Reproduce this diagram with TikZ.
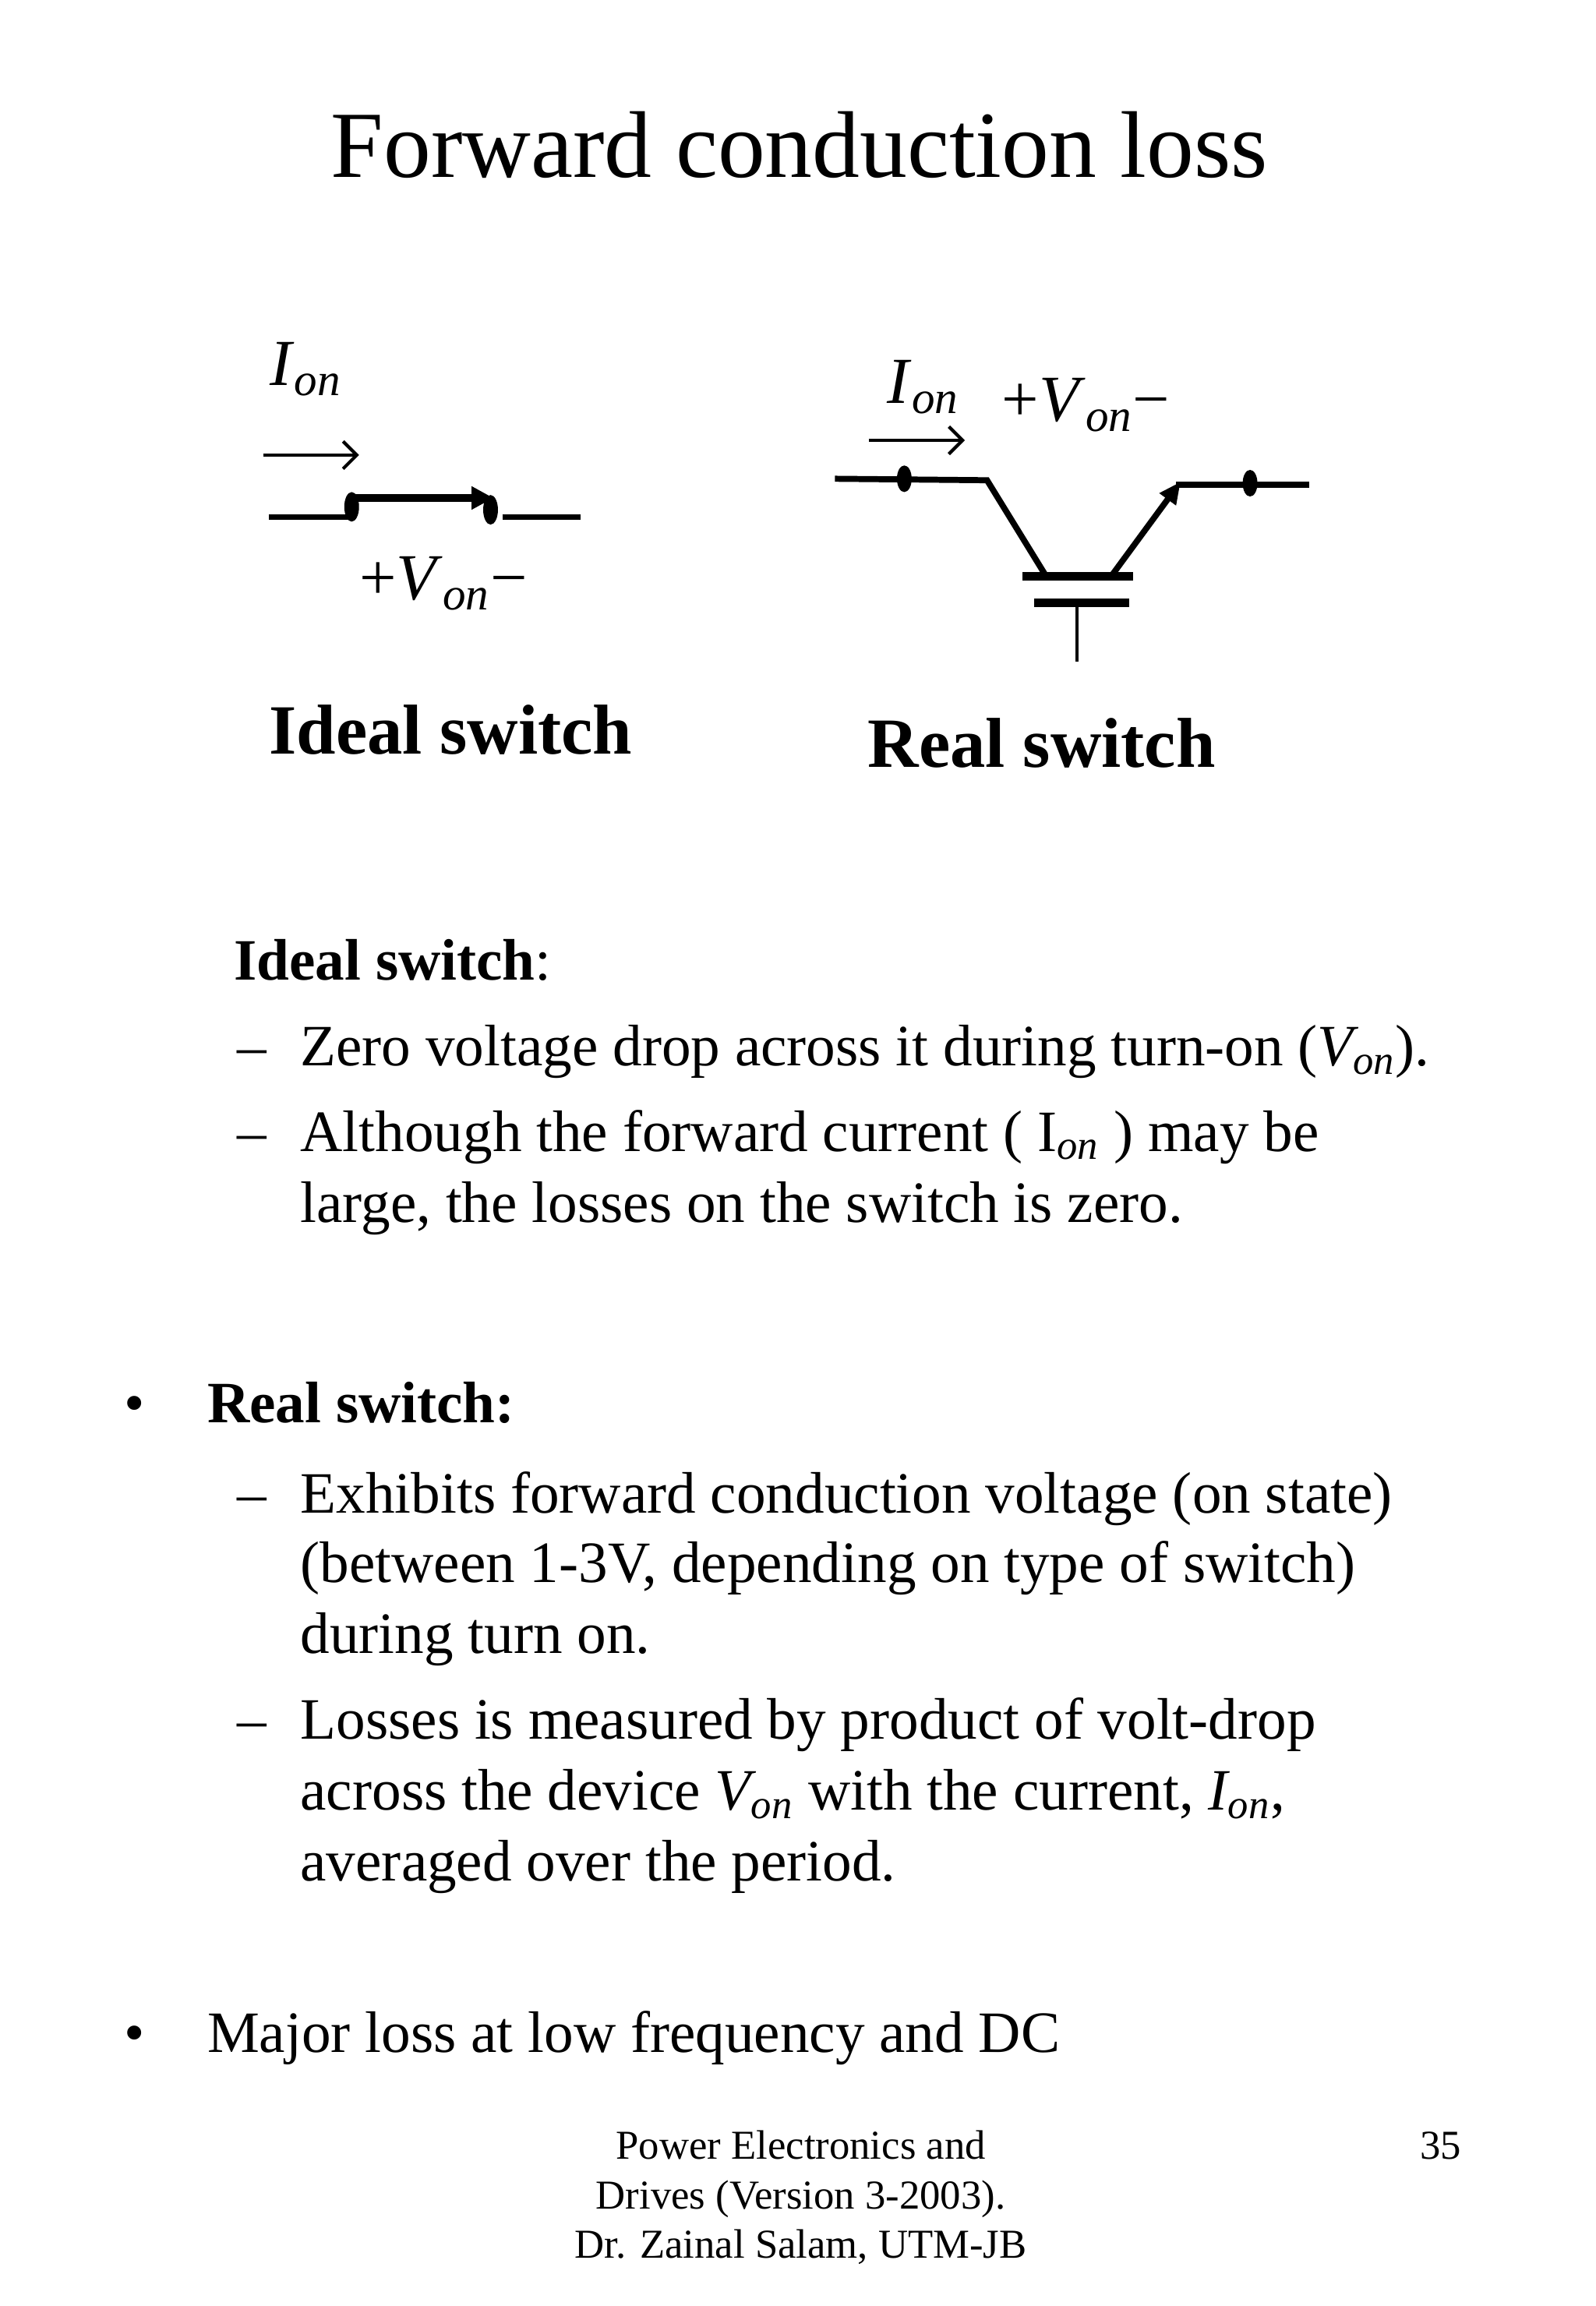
\documentclass[tikz,border=0pt]{standalone}
\usepackage{fontspec}
\setmainfont{Liberation Serif}
\usetikzlibrary{arrows.meta}
\begin{document}
\begin{tikzpicture}[x=0.01896cm,y=-0.01896cm,
  body/.style={anchor=base west,inner sep=0,font=\fontsize{21.4}{26}\selectfont},
  foot/.style={anchor=base,inner sep=0,font=\fontsize{15}{17}\selectfont},
  head/.style={anchor=base,inner sep=0,font=\fontsize{25.8}{30}\selectfont\bfseries},
  lab/.style={inner sep=0,font=\fontsize{24}{28}\selectfont},
  wire/.style={line width=2.2pt},
  thinw/.style={line width=1.2pt},
]
\useasboundingbox (0,0) rectangle (1080,1560.6);
\node[anchor=base,inner sep=0,font=\fontsize{34.6}{40}\selectfont] (title) at (541,120) {Forward conduction loss};
% ideal switch
\node[lab] (i1) at (207,250) {\textit{I}\textsubscript{\textit{on}}};
\coordinate (a1s) at (178,308); \coordinate (a1e) at (243,308);
\draw[thinw,-{Straight Barb[length=5pt]}] (a1s) -- (a1e);
\coordinate (w1a) at (182,350); \coordinate (w1b) at (238,350);
\coordinate (w2a) at (340,350); \coordinate (w2b) at (393,350);
\draw[wire] (w1a) -- (w1b); \draw[wire] (w2a) -- (w2b);
\fill (238,343) ellipse (5 and 10);
\fill (332,345) ellipse (5 and 10);
\coordinate (b1) at (240,337); \coordinate (b2) at (334,337);
\draw[line width=3pt,-{Triangle[length=8pt,width=8pt]}] (b1) -- (b2);
\node[lab] (v1) at (300,395) {+\textit{V}\textsubscript{\textit{on}}−};
\node[head] (h1) at (305,510) {Ideal switch};
% real switch
\node[lab] (i2) at (625,262) {\textit{I}\textsubscript{\textit{on}}};
\node[lab] (v2) at (735,274) {+\textit{V}\textsubscript{\textit{on}}−};
\coordinate (a2s) at (588,298); \coordinate (a2e) at (653,298);
\draw[thinw,-{Straight Barb[length=5pt]}] (a2s) -- (a2e);
\coordinate (l1) at (565,324); \coordinate (l2) at (668,325); \coordinate (l3) at (708,390);
\draw[wire] (l1) -- (l2) -- (l3);
\fill (612,324) ellipse (5 and 9);
\coordinate (g1) at (692,390); \coordinate (g2) at (767,390);
\draw[line width=3.2pt] (g1) -- (g2);
\coordinate (g3) at (700,408); \coordinate (g4) at (764,408);
\draw[line width=3.2pt] (g3) -- (g4);
\coordinate (s1) at (729,408); \coordinate (s2) at (729,448);
\draw[thinw] (s1) -- (s2);
\coordinate (r1) at (752,390); \coordinate (r2) at (799,326);
\draw[wire,-{Triangle[length=8pt,width=7pt]}] (r1) -- (r2);
\coordinate (r3) at (796,328); \coordinate (r4) at (886,328);
\draw[wire] (r3) -- (r4);
\fill (846,327) ellipse (5 and 9);
\node[head] (h2) at (705,519) {Real switch};
% body
\node[body] (t1) at (158,663) {\textbf{Ideal switch}:};
\node[body] (d1) at (160,721) {–};
\node[body] (t2) at (203,721) {Zero voltage drop across it during turn-on (\textit{V\textsubscript{on}}).};
\node[body] (d2) at (160,779) {–};
\node[body] (t3) at (203,779) {Although the forward current ( I\textsubscript{\textit{on}} ) may be};
\node[body] (t4) at (203,827) {large, the losses on the switch is zero.};
\node[body] (bu1) at (84,963) {•};
\node[body] (t5) at (140,963) {\textbf{Real switch:}};
\node[body] (d3) at (160,1024) {–};
\node[body] (t6) at (203,1024) {Exhibits forward conduction voltage (on state)};
\node[body] (t7) at (203,1071) {(between 1-3V, depending on type of switch)};
\node[body] (t8) at (203,1119) {during turn on.};
\node[body] (d4) at (160,1177) {–};
\node[body] (t9) at (203,1177) {Losses is measured by product of volt-drop};
\node[body] (t10) at (203,1225) {across the device \textit{V\textsubscript{on}} with the current, \textit{I\textsubscript{on}},};
\node[body] (t11) at (203,1273) {averaged over the period.};
\node[body] (bu2) at (84,1389) {•};
\node[body] (t12) at (140,1389) {Major loss at low frequency and DC};
% footer
\node[foot] (f1) at (542,1461) {Power Electronics and};
\node[foot] (f2) at (542,1495) {Drives (Version 3-2003).};
\node[foot] (f3) at (542,1528) {Dr. Zainal Salam, UTM-JB};
\node[foot] (f4) at (975,1461) {35};
\end{tikzpicture}
\end{document}
